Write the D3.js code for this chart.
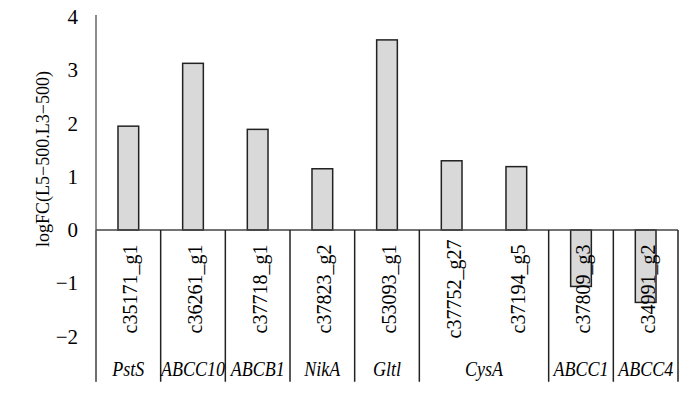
<!DOCTYPE html>
<html>
<head>
<meta charset="utf-8">
<script src="https://cdn.jsdelivr.net/npm/d3@7"></script>
<style>
  html, body { margin: 0; padding: 0; background: #fff; }
  svg text { font-family: 'Liberation Serif', 'DejaVu Serif', serif; fill: #000; }
</style>
</head>
<body>
<div id="chart"></div>
<script>
// contig ids, one bar each
const contigs = ['c35171_g1', 'c36261_g1', 'c37718_g1', 'c37823_g2', 'c53093_g1',
                 'c37752_g27', 'c37194_g5', 'c37809_g3', 'c34991_g2'];
const logFC = [1.95, 3.13, 1.89, 1.15, 3.57, 1.30, 1.19, -1.06, -1.36];

// gene groups below the labels
const genes = ['PstS', 'ABCC10', 'ABCB1', 'NikA', 'Gltl', 'CysA', 'ABCC1', 'ABCC4'];
const geneSizes = [1, 1, 1, 1, 1, 2, 1, 1];

const yTicks = [-2, -1, 0, 1, 2, 3, 4];
const yTitle = 'logFC(L5\u2212500.L3\u2212500)';

const W = 700, H = 395;
const svg = d3.select('#chart').append('svg')
  .attr('width', W)
  .attr('height', H);

svg.append('rect').attr('width', W).attr('height', H).attr('fill', '#fff');

const x = d3.scaleBand()
  .domain(contigs)
  .range([96, 678])
  .paddingInner(0.68)
  .paddingOuter(0.34);

const y = d3.scaleLinear().domain([0, 4]).range([230, 17]);
const yBottom = -2.85; // where the axis and separators stop

// y axis line
svg.append('line')
  .attr('x1', 96).attr('x2', 96)
  .attr('y1', y(4) - 2).attr('y2', y(yBottom))
  .attr('stroke', '#666').attr('stroke-width', 1.5);

// tick labels
svg.selectAll('.ytick')
  .data(yTicks)
  .enter().append('text')
  .attr('class', 'ytick')
  .attr('x', 78)
  .attr('y', d => y(d))
  .attr('text-anchor', 'end')
  .attr('dominant-baseline', 'central')
  .style('font-size', '21px')
  .text(d => d3.format('d')(d));

// y title
svg.append('text')
  .attr('transform', `translate(49,${159}) rotate(-90)`)
  .attr('text-anchor', 'middle')
  .style('font-size', '18px')
  .text(yTitle);

// bars
const data = contigs.map((c, i) => ({ id: c, v: logFC[i] }));
svg.selectAll('.bar')
  .data(data)
  .enter().append('rect')
  .attr('class', 'bar')
  .attr('x', d => x(d.id))
  .attr('width', x.bandwidth())
  .attr('y', d => y(Math.max(0, d.v)))
  .attr('height', d => Math.abs(y(d.v) - y(0)))
  .attr('fill', '#d9d9d9')
  .attr('stroke', '#222')
  .attr('stroke-width', 1.5);

// zero line
svg.append('line')
  .attr('x1', 96).attr('x2', 678)
  .attr('y1', y(0)).attr('y2', y(0))
  .attr('stroke', '#444').attr('stroke-width', 1.5);

// contig labels, rotated
svg.selectAll('.clabel')
  .data(data)
  .enter().append('text')
  .attr('class', 'clabel')
  .attr('transform', d => `translate(${x(d.id) + x.bandwidth() / 2 + 9},289) rotate(-90)`)
  .attr('text-anchor', 'middle')
  .style('font-size', '20px')
  .text(d => d.id);

// group separators and gene names
const step = x.step();
const x0 = x.range()[0];
let start = 0;
const groups = genes.map((g, i) => {
  const grp = { name: g, a: x0 + start * step, b: x0 + (start + geneSizes[i]) * step };
  start += geneSizes[i];
  return grp;
});

const seps = [groups[0].a].concat(groups.map(g => g.b));
svg.selectAll('.sep')
  .data(seps)
  .enter().append('line')
  .attr('class', 'sep')
  .attr('x1', d => d).attr('x2', d => d)
  .attr('y1', y(0)).attr('y2', y(yBottom))
  .attr('stroke', d => d === x0 ? '#666' : '#222')
  .attr('stroke-width', 1.5);

svg.selectAll('.gene')
  .data(groups)
  .enter().append('text')
  .attr('class', 'gene')
  .attr('transform', d => `translate(${(d.a + d.b) / 2},376) scale(0.9,1)`)
  .attr('text-anchor', 'middle')
  .style('font-size', '20px')
  .style('font-style', 'italic')
  .text(d => d.name);
</script>
</body>
</html>
